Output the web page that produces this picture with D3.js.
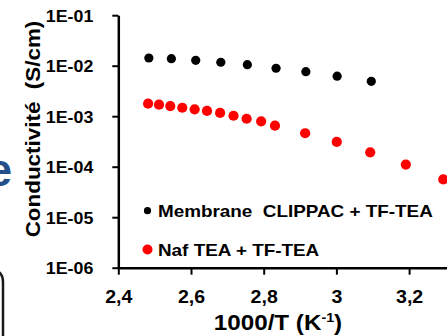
<!DOCTYPE html>
<html>
<head>
<meta charset="utf-8">
<script src="https://cdn.jsdelivr.net/npm/d3@7"></script>
<style>
  body { margin: 0; background: #fff; }
  svg { display: block; }
  text { font-family: "Liberation Sans", Arial, sans-serif; font-weight: bold; fill: #000; }
</style>
</head>
<body>
<svg id="chart"></svg>
<script>
var width = 447;
var height = 336;

// 1000/T values and conductivity (S/cm)
var membraneX = [2.484, 2.546, 2.613, 2.682, 2.755, 2.834, 2.916, 3.002, 3.096];
var membraneY = [1.42e-2, 1.38e-2, 1.28e-2, 1.17e-2, 1.05e-2, 8.9e-3, 7.6e-3, 6.2e-3, 4.9e-3];

var nafX = [2.482, 2.512, 2.543, 2.576, 2.610, 2.644, 2.680, 2.717, 2.753, 2.793, 2.831, 2.914, 3.001, 3.093, 3.191, 3.294];
var nafY = [1.77e-3, 1.69e-3, 1.59e-3, 1.47e-3, 1.37e-3, 1.27e-3, 1.16e-3, 1.02e-3, 8.9e-4, 7.9e-4, 6.5e-4, 4.6e-4, 3.1e-4, 1.93e-4, 1.10e-4, 5.6e-5];

var seriesNames = ["Membrane  CLIPPAC + TF-TEA", "Naf TEA + TF-TEA"];
var seriesColors = ["#000000", "#ff0000"];

// 3,4 sits past the right edge of the crop, so only these show
var xTicks = [2.4, 2.6, 2.8, 3, 3.2];
var xTickLabels = ["2,4", "2,6", "2,8", "3", "3,2"];
var yTicks = [1e-6, 1e-5, 1e-4, 1e-3, 1e-2, 1e-1];
var yTickLabels = ["1E-06", "1E-05", "1E-04", "1E-03", "1E-02", "1E-01"];

var xTitle = "1000/T (K";
var xTitleSup = "-1";
var yTitle = "Conductivité  (S/cm)";

var plotLeft = 118.3, plotRight = 481.8;
var plotTop = 15.2, plotBottom = 267.7;
var stretch = 1.18;

var svg = d3.select('#chart')
            .attr('width', width)
            .attr('height', height);

var xScale = d3.scaleLinear()
               .domain([2.4, 3.4])
               .range([plotLeft, plotRight]);

var yScale = d3.scaleLog()
               .domain([1e-6, 1e-1])
               .range([plotBottom, plotTop]);

// bits of the slide that got cropped in on the left
svg.append('text')
   .attr('x', 12)
   .attr('y', 186)
   .attr('text-anchor', 'end')
   .style('font-size', '46px')
   .style('fill', '#24508a')
   .text('e');

svg.append('path')
   .attr('d', 'M -12 269 Q 3 269 3 282 L 3 340')
   .attr('fill', 'none')
   .attr('stroke', '#1a1a1a')
   .attr('stroke-width', 2.5);

// axes
var yAxis = svg.append('g')
               .attr('transform', `translate(${plotLeft}, 0)`)
               .call(d3.axisLeft(yScale)
                       .tickValues(yTicks)
                       .tickFormat(function(d, i){ return yTickLabels[i]; })
                       .tickSize(6)
                       .tickSizeOuter(0));

yAxis.select('.domain').attr('stroke-width', 2.5);
yAxis.selectAll('.tick line').attr('stroke-width', 2);
yAxis.selectAll('.tick text')
     .attr('x', -25 / 1.08)
     .attr('dy', '0.36em')
     .attr('transform', 'scale(1.08,1)')
     .style('font-size', '16.5px')
     .style('font-family', '"Liberation Sans", Arial, sans-serif')
     .style('font-weight', 'bold');

var xAxis = svg.append('g')
               .attr('transform', `translate(0, ${plotBottom})`)
               .call(d3.axisBottom(xScale)
                       .tickValues(xTicks)
                       .tickFormat(function(d, i){ return xTickLabels[i]; })
                       .tickSize(7)
                       .tickSizeOuter(0));

xAxis.select('.domain').attr('stroke-width', 2.5);
xAxis.selectAll('.tick line').attr('stroke-width', 2);
xAxis.selectAll('.tick text')
     .attr('y', 35.5)
     .attr('dy', null)
     .attr('transform', 'scale(1.12,1)')
     .style('font-size', '17.5px')
     .style('font-family', '"Liberation Sans", Arial, sans-serif')
     .style('font-weight', 'bold');

// points
svg.append('g')
   .selectAll('circle')
   .data(membraneX)
   .enter()
   .append('circle')
     .attr('cx', function(d){ return xScale(d); })
     .attr('cy', function(d, i){ return yScale(membraneY[i]); })
     .attr('r', 4.6)
     .attr('fill', seriesColors[0]);

svg.append('g')
   .selectAll('circle')
   .data(nafX)
   .enter()
   .append('circle')
     .attr('cx', function(d){ return xScale(d); })
     .attr('cy', function(d, i){ return yScale(nafY[i]); })
     .attr('r', 5.1)
     .attr('fill', seriesColors[1]);

// legend
var legendRows = [{ y: 216.7, r: 3.6 }, { y: 255.5, r: 5 }];
legendRows.forEach(function(row, i){
  svg.append('circle')
     .attr('cx', 147.5)
     .attr('cy', row.y - 6)
     .attr('r', row.r)
     .attr('fill', seriesColors[i]);

  svg.append('text')
     .attr('transform', `translate(158, ${row.y}) scale(${stretch},1)`)
     .style('font-size', '16px')
     .style('white-space', 'pre')
     .text(seriesNames[i]);
});

// axis titles
var xLabel = svg.append('text')
                .attr('transform', `translate(278, 330) scale(1.1,1)`)
                .attr('text-anchor', 'middle')
                .style('font-size', '22px');
xLabel.append('tspan').text(xTitle);
xLabel.append('tspan')
      .attr('dy', -8)
      .style('font-size', '13px')
      .text(xTitleSup);
xLabel.append('tspan')
      .attr('dy', 8)
      .text(')');

svg.append('text')
   .attr('transform', `translate(39.5, 129) rotate(-90) scale(1.15,1)`)
   .attr('text-anchor', 'middle')
   .style('font-size', '19.5px')
   .style('white-space', 'pre')
   .text(yTitle);
</script>
</body>
</html>
